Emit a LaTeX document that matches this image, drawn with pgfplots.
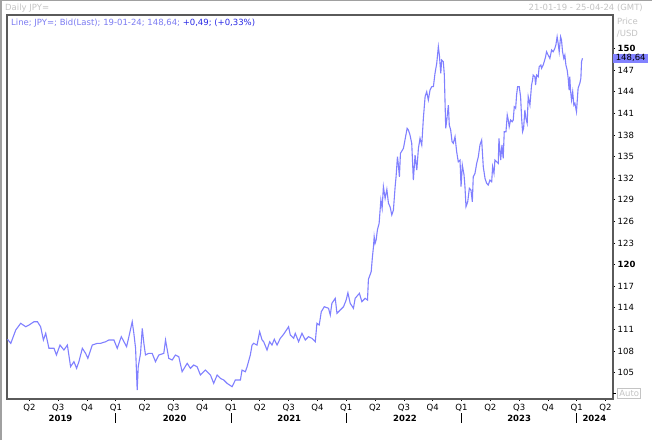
\documentclass[border=0pt]{standalone}
\usepackage{pgfplots}
\pgfplotsset{compat=1.18}
\usepackage{fontspec}
\setmainfont{DejaVu Sans}
\definecolor{linec}{HTML}{8080FF}
\definecolor{leg1}{HTML}{7C7CF2}
\definecolor{leg2}{HTML}{2828E6}
\definecolor{boxc}{HTML}{8282FF}
\definecolor{framec}{HTML}{5A5A5A}
\definecolor{lgray}{HTML}{C4C4C4}
\definecolor{bgray}{HTML}{A0A0A0}

\pgfplotstableread{
x y
2019.059 109.64
2019.088 109.08
2019.131 110.93
2019.174 111.86
2019.218 111.38
2019.246 111.62
2019.289 112.08
2019.319 112.08
2019.347 111.38
2019.371 109.54
2019.391 110.47
2019.419 108.39
2019.463 108.39
2019.484 107.46
2019.515 108.84
2019.549 108.15
2019.579 108.84
2019.607 105.83
2019.636 106.53
2019.659 105.61
2019.679 106.53
2019.709 108.39
2019.737 107.69
2019.757 107.00
2019.795 108.84
2019.839 109.08
2019.867 109.08
2019.911 109.30
2019.939 109.54
2019.983 109.54
2020.012 108.39
2020.047 110.00
2020.093 108.61
2020.113 110.00
2020.142 112.08
2020.156 110.47
2020.171 108.39
2020.185 102.60
2020.194 105.83
2020.214 107.69
2020.229 111.16
2020.243 109.08
2020.257 107.46
2020.286 107.69
2020.315 107.69
2020.344 106.53
2020.373 107.46
2020.416 107.69
2020.431 109.54
2020.459 107.00
2020.489 106.76
2020.517 107.46
2020.546 107.22
2020.575 105.14
2020.619 106.30
2020.647 105.61
2020.676 106.07
2020.705 105.83
2020.734 104.68
2020.777 105.37
2020.821 104.68
2020.849 103.53
2020.879 104.68
2020.907 104.22
2020.936 103.99
2020.965 103.53
2021.009 103.06
2021.037 103.99
2021.081 103.99
2021.095 105.37
2021.124 105.14
2021.139 105.83
2021.167 107.46
2021.182 108.84
2021.196 109.08
2021.225 108.84
2021.248 110.69
2021.269 109.54
2021.283 109.30
2021.312 108.15
2021.335 109.30
2021.355 108.84
2021.375 109.64
2021.399 108.84
2021.427 109.77
2021.451 110.23
2021.471 110.69
2021.499 111.38
2021.514 110.23
2021.543 109.77
2021.557 110.47
2021.586 109.30
2021.615 110.47
2021.644 109.54
2021.672 110.00
2021.702 109.77
2021.731 109.30
2021.745 111.86
2021.765 111.62
2021.783 113.47
2021.809 114.16
2021.846 113.94
2021.861 113.00
2021.875 114.63
2021.904 115.33
2021.919 113.24
2021.947 113.70
2021.976 114.16
2021.999 115.09
2022.014 116.10
2022.034 114.63
2022.062 113.94
2022.077 115.33
2022.114 116.02
2022.135 114.86
2022.164 115.33
2022.184 115.09
2022.192 117.96
2022.216 119.02
2022.227 121.10
2022.236 122.49
2022.242 123.88
2022.250 122.96
2022.259 123.42
2022.270 124.81
2022.285 125.74
2022.300 128.97
2022.311 127.82
2022.322 130.82
2022.337 129.20
2022.352 130.45
2022.366 128.51
2022.380 128.04
2022.395 126.89
2022.409 127.58
2022.424 130.82
2022.432 132.20
2022.444 134.98
2022.452 133.83
2022.461 132.20
2022.470 135.45
2022.496 136.14
2022.528 138.92
2022.539 138.69
2022.553 137.99
2022.568 136.84
2022.582 131.74
2022.597 135.21
2022.612 133.13
2022.626 136.14
2022.640 137.53
2022.655 136.60
2022.669 140.31
2022.684 143.31
2022.698 144.00
2022.712 142.85
2022.727 144.24
2022.742 144.70
2022.756 144.70
2022.770 146.55
2022.785 147.94
2022.799 150.25
2022.808 149.09
2022.820 146.55
2022.828 148.40
2022.842 148.17
2022.851 146.32
2022.863 138.92
2022.872 140.07
2022.886 142.15
2022.894 139.38
2022.906 138.69
2022.918 137.06
2022.929 136.84
2022.944 137.76
2022.958 135.67
2022.972 134.28
2022.987 134.52
2022.996 130.82
2023.007 133.83
2023.022 132.44
2023.030 130.82
2023.039 128.04
2023.054 128.73
2023.068 130.59
2023.082 130.36
2023.094 128.73
2023.102 132.20
2023.117 132.67
2023.132 134.06
2023.146 134.98
2023.160 136.60
2023.175 137.30
2023.189 133.59
2023.204 131.98
2023.218 131.29
2023.232 131.05
2023.247 131.74
2023.262 131.51
2023.270 133.59
2023.282 132.67
2023.290 134.52
2023.305 134.29
2023.319 134.06
2023.325 137.53
2023.340 134.52
2023.351 136.60
2023.362 134.76
2023.371 138.45
2023.386 138.45
2023.397 140.77
2023.406 140.07
2023.414 139.14
2023.426 140.07
2023.440 139.84
2023.449 140.07
2023.458 141.92
2023.470 141.69
2023.478 143.54
2023.487 144.70
2023.501 144.70
2023.513 143.31
2023.522 140.31
2023.530 138.45
2023.539 138.92
2023.550 141.46
2023.559 140.31
2023.570 139.61
2023.579 143.31
2023.594 142.15
2023.608 144.93
2023.617 145.62
2023.622 146.32
2023.637 146.08
2023.643 144.93
2023.652 146.32
2023.666 146.08
2023.674 147.47
2023.689 147.71
2023.695 147.25
2023.709 147.71
2023.718 148.17
2023.730 148.86
2023.738 149.55
2023.752 149.09
2023.767 148.63
2023.782 149.79
2023.796 149.55
2023.810 150.02
2023.819 150.48
2023.830 151.63
2023.839 150.71
2023.848 149.55
2023.860 151.63
2023.868 151.18
2023.877 149.55
2023.888 148.63
2023.897 149.09
2023.906 147.71
2023.917 147.01
2023.926 145.86
2023.934 144.24
2023.940 146.08
2023.946 144.24
2023.955 142.85
2023.965 144.00
2023.975 142.15
2023.984 142.39
2023.998 141.22
2024.012 144.47
2024.027 145.17
2024.036 145.86
2024.042 148.17
2024.050 148.64
}\jpy

\begin{document}
\begin{tikzpicture}[font=\fontsize{8.5}{10}\selectfont]
\useasboundingbox (0,0) rectangle (652pt,440pt);
\fill[white] (0,0) rectangle (652pt,440pt);
\draw[bgray, line width=1.6pt] (0.8pt,0pt) -- (0.8pt,440pt);
\draw[bgray, line width=1.2pt] (0pt,439.4pt) -- (652pt,439.4pt);
\begin{axis}[
  at={(7pt,41pt)}, anchor=south west,
  width=606pt, height=384pt, scale only axis,
  xmin=2019.055, xmax=2024.315, ymin=101.35, ymax=154.65,
  axis line style={draw=framec, line width=1.4pt},
  clip=false,
  xtick pos=bottom, ytick pos=right,
  tick align=outside, major tick length=2pt,
  tick style={black, line width=0.8pt},
  ytick={105,108,111,114,117,120,123,126,129,132,135,138,141,144,147,150},
  yticklabels={105,108,111,114,117,\textbf{120},123,126,129,132,135,138,141,144,147,\textbf{150}},
  yticklabel style={anchor=west, inner sep=0pt, xshift=2.5pt},
  xtick={2019.25,2019.5,2019.75,2020,2020.25,2020.5,2020.75,2021,2021.25,2021.5,2021.75,2022,2022.25,2022.5,2022.75,2023,2023.25,2023.5,2023.75,2024,2024.25},
  xticklabels={Q2,Q3,Q4,Q1,Q2,Q3,Q4,Q1,Q2,Q3,Q4,Q1,Q2,Q3,Q4,Q1,Q2,Q3,Q4,Q1,Q2},
  xticklabel style={anchor=north, inner sep=0pt, yshift=-2.5pt},
]
\addplot[linec, line width=1.1pt] table[x=x, y=y] {\jpy};
\node[font=\fontsize{8.5}{10}\selectfont\bfseries, inner sep=0pt, yshift=-19pt] at (axis cs:2019.52,101.35) {2019};
\node[font=\fontsize{8.5}{10}\selectfont\bfseries, inner sep=0pt, yshift=-19pt] at (axis cs:2020.51,101.35) {2020};
\node[font=\fontsize{8.5}{10}\selectfont\bfseries, inner sep=0pt, yshift=-19pt] at (axis cs:2021.505,101.35) {2021};
\node[font=\fontsize{8.5}{10}\selectfont\bfseries, inner sep=0pt, yshift=-19pt] at (axis cs:2022.51,101.35) {2022};
\node[font=\fontsize{8.5}{10}\selectfont\bfseries, inner sep=0pt, yshift=-19pt] at (axis cs:2023.50,101.35) {2023};
\node[font=\fontsize{8.5}{10}\selectfont\bfseries, inner sep=0pt, yshift=-19pt] at (axis cs:2024.153,101.35) {2024};
\draw[black, line width=0.9pt] (axis cs:2020,101.35) ++(0pt,-14pt) -- ++(0pt,-10pt);
\draw[black, line width=0.9pt] (axis cs:2021,101.35) ++(0pt,-14pt) -- ++(0pt,-10pt);
\draw[black, line width=0.9pt] (axis cs:2022,101.35) ++(0pt,-14pt) -- ++(0pt,-10pt);
\draw[black, line width=0.9pt] (axis cs:2023,101.35) ++(0pt,-14pt) -- ++(0pt,-10pt);
\draw[black, line width=0.9pt] (axis cs:2024,101.35) ++(0pt,-14pt) -- ++(0pt,-10pt);
\node[fill=boxc, anchor=west, minimum width=35pt, minimum height=9.5pt, inner sep=0.5pt, text=black] at (axis cs:2024.315,148.64) {148,64};
\end{axis}
\node[anchor=west, inner sep=0pt, text=lgray] at (5pt,432pt) {Daily JPY=};
\node[anchor=east, inner sep=0pt, text=lgray] at (643pt,432pt) {21-01-19 - 25-04-24 (GMT)};
\node[anchor=west, inner sep=0pt] at (11pt,417pt) {\textcolor{leg1}{Line; JPY=; Bid(Last); 19-01-24; 148,64;} \textcolor{leg2}{+0,49; (+0,33\%)}};
\node[inner sep=0pt, text=lgray] at (627.5pt,418.3pt) {Price};
\node[inner sep=0pt, text=lgray] at (627.5pt,406.7pt) {/USD};
\draw[black, line width=0.8pt] (613pt,46.7pt) -- (615.5pt,46.7pt);
\node[draw=lgray, text=lgray, line width=0.6pt, minimum width=23pt, minimum height=10pt, inner sep=0.5pt] at (629.2pt,46.7pt) {Auto};
\end{tikzpicture}
\end{document}
